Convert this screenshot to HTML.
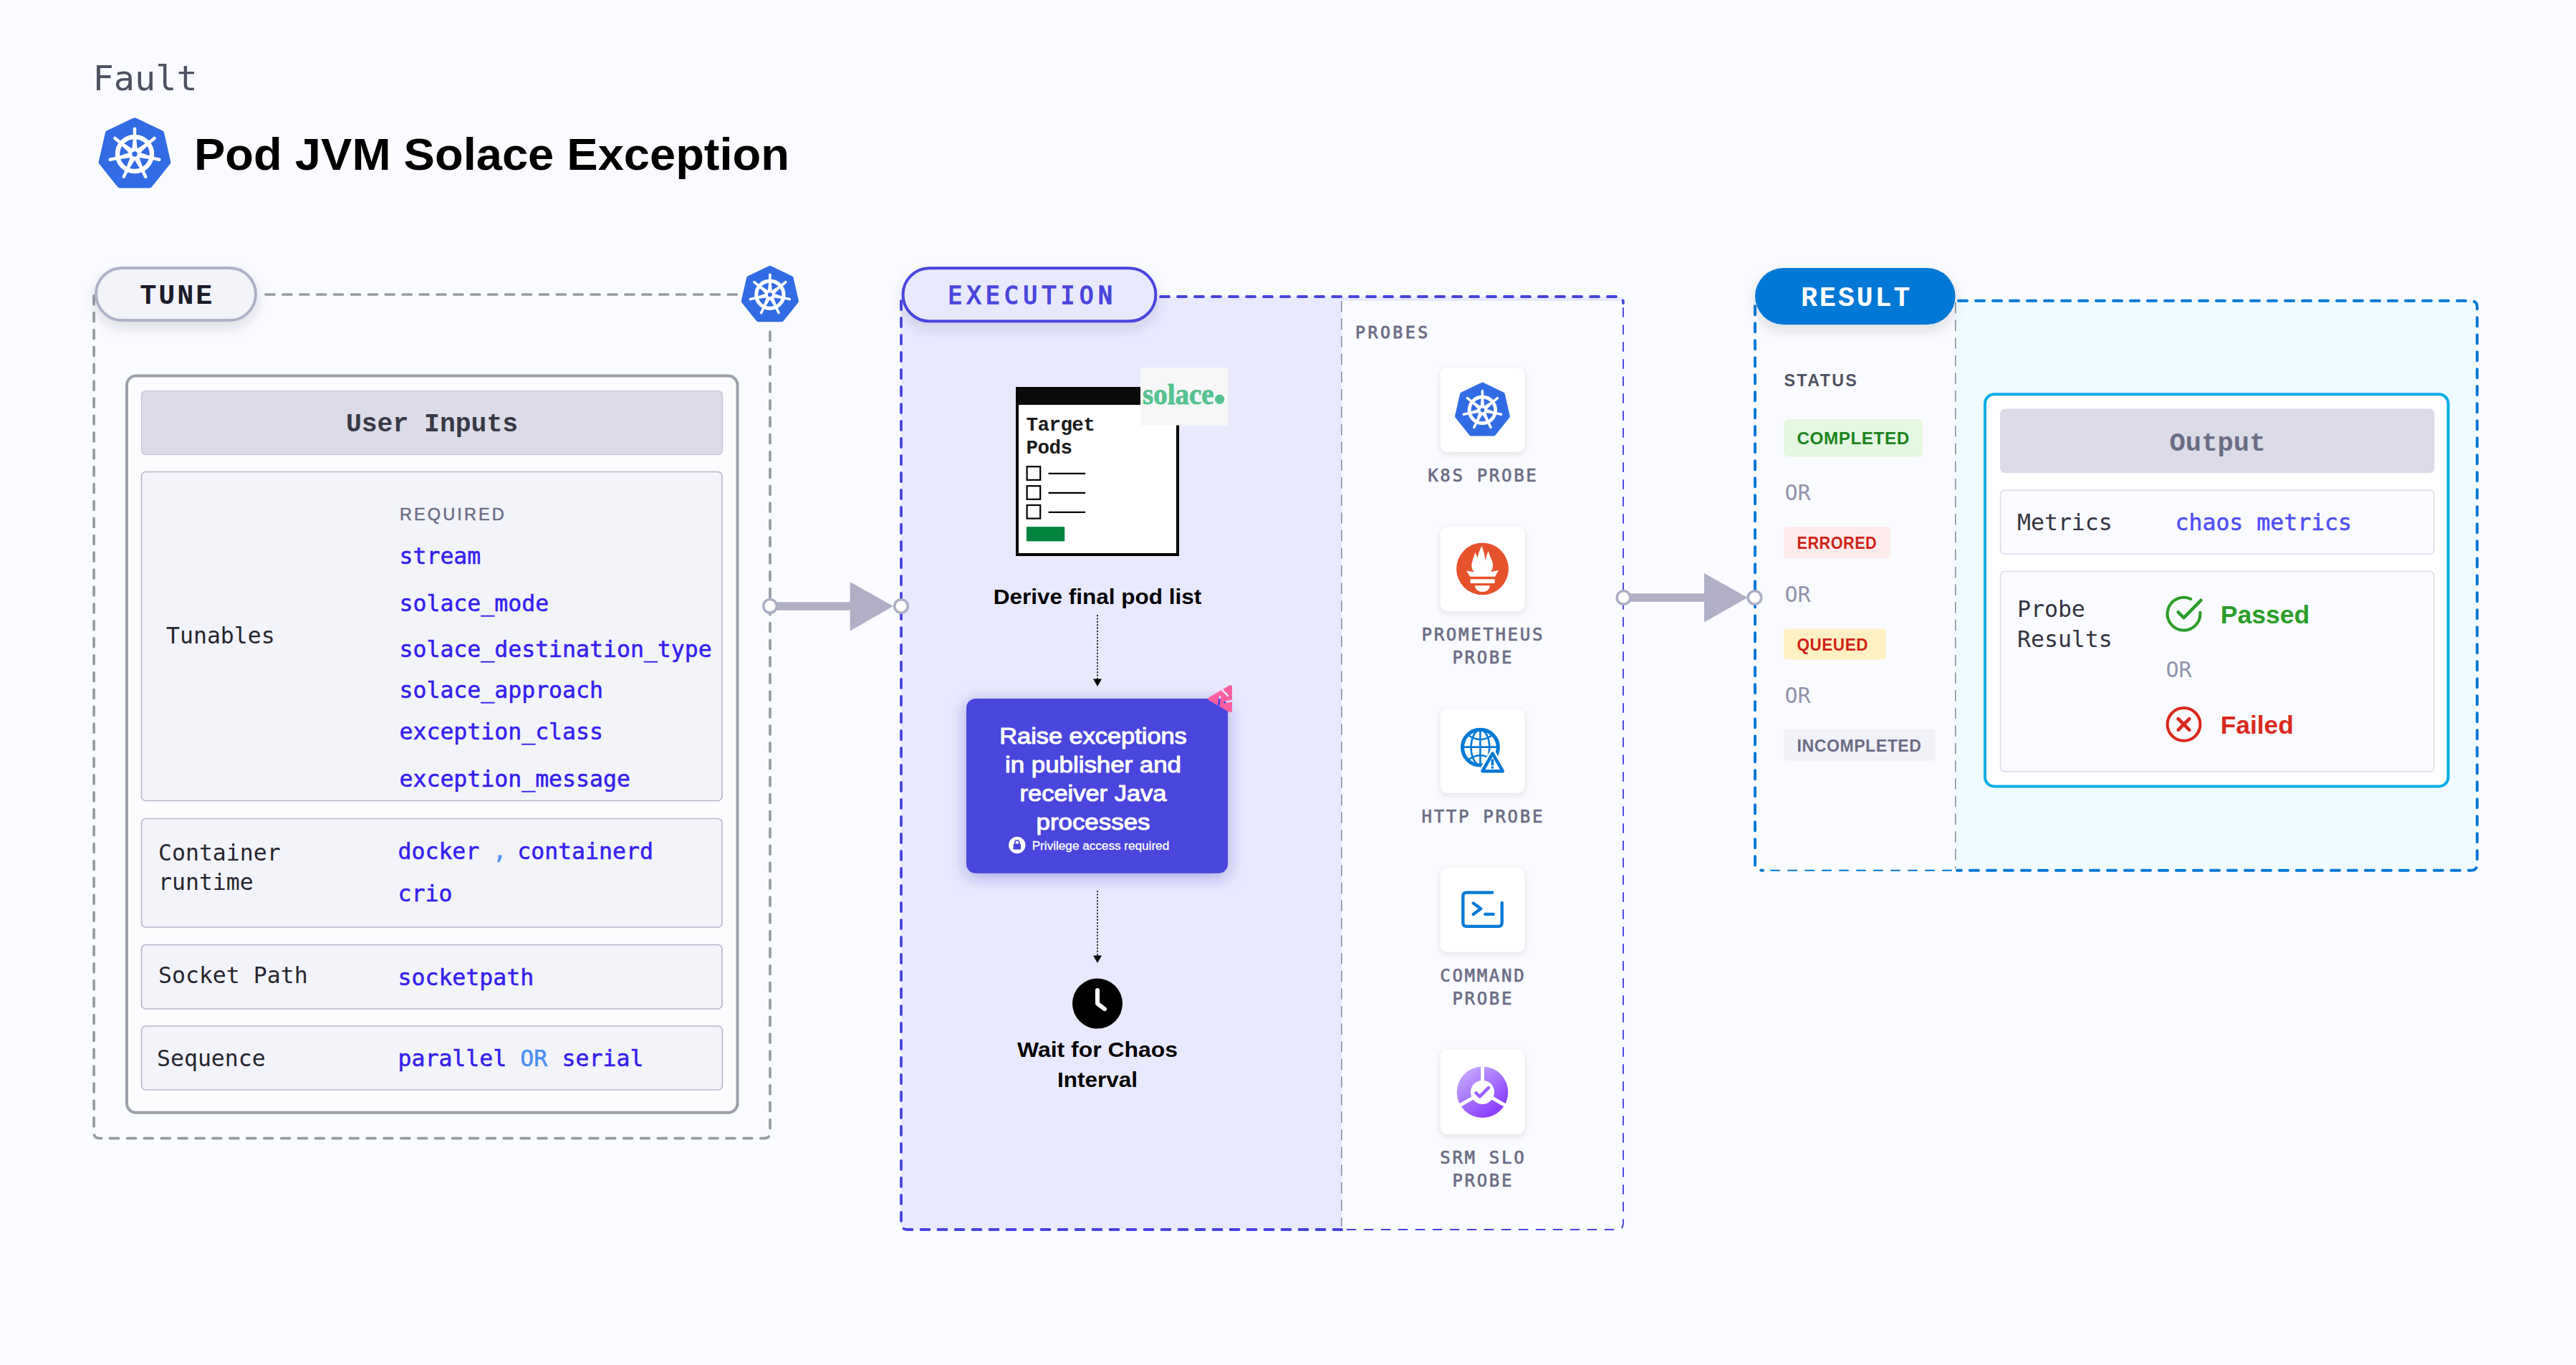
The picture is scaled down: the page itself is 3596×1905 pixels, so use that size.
<!DOCTYPE html>
<html lang="en">
<head>
<meta charset="utf-8">
<title>Pod JVM Solace Exception</title>
<style>
html,body{margin:0;padding:0;background:#fafbfe;}
body{width:3596px;height:1905px;overflow:hidden;position:relative;}
svg{position:absolute;left:0;top:0;display:block;}
text{white-space:pre;}
.mono{font-family:"DejaVu Sans Mono","Liberation Mono",monospace;}
.monob{font-family:"Liberation Mono","DejaVu Sans Mono",monospace;font-weight:bold;}
.sans{font-family:"Liberation Sans","DejaVu Sans",sans-serif;}
.serif{font-family:"Liberation Serif","DejaVu Serif",serif;}
.b{font-weight:bold;}
.lbl{font-size:31.5px;fill:#26262e;}
.val{font-size:31.5px;fill:#3520ee;stroke:#3520ee;stroke-width:.55px;}
.probe{font-size:24px;fill:#6b6d85;stroke:#6b6d85;stroke-width:.7px;letter-spacing:2.7px;text-anchor:middle;}
.or{font-size:30px;fill:#9293ab;}
.badge{font-size:24px;font-weight:bold;letter-spacing:.6px;}
</style>
</head>
<body>
<svg width="3596" height="1905" viewBox="0 0 3596 1905">
<defs>
  <filter id="shPill" x="-20%" y="-30%" width="140%" height="190%">
    <feDropShadow dx="0" dy="8" stdDeviation="8" flood-color="#28293d" flood-opacity="0.14"/>
  </filter>
  <filter id="shCard" x="-20%" y="-20%" width="140%" height="150%">
    <feDropShadow dx="0" dy="3" stdDeviation="4" flood-color="#28293d" flood-opacity="0.12"/>
  </filter>
  <filter id="shBox" x="-20%" y="-20%" width="140%" height="150%">
    <feDropShadow dx="0" dy="5" stdDeviation="11" flood-color="#2a27a8" flood-opacity="0.36"/>
  </filter>
  <!-- kubernetes logo, drawn in a 100x100 box centred on 50,50 -->
  <g id="spoke"><path d="M-3.6,-8 L-2.2,-22 L-2.3,-35.2 A2.3 2.3 0 0 1 2.3,-35.2 L2.2,-22 L3.6,-8 Z" fill="#fff"/></g>
  <g id="k8s">
    <path d="M50 4.5 L86.75 22.2 L95.82 61.96 L70.39 93.85 L29.61 93.85 L4.18 61.96 L13.25 22.2 Z" fill="#fff" stroke="#fff" stroke-width="15" stroke-linejoin="round" opacity=".85"/>
    <path d="M50 4.5 L86.75 22.2 L95.82 61.96 L70.39 93.85 L29.61 93.85 L4.18 61.96 L13.25 22.2 Z" fill="#326ce5" stroke="#326ce5" stroke-width="9" stroke-linejoin="round"/>
    <circle cx="50" cy="50.8" r="24" fill="none" stroke="#fff" stroke-width="6.4"/>
    <g transform="translate(50,50.8)">
      <use href="#spoke"/>
      <use href="#spoke" transform="rotate(51.43)"/>
      <use href="#spoke" transform="rotate(102.86)"/>
      <use href="#spoke" transform="rotate(154.29)"/>
      <use href="#spoke" transform="rotate(205.71)"/>
      <use href="#spoke" transform="rotate(257.14)"/>
      <use href="#spoke" transform="rotate(308.57)"/>
      <circle r="9" fill="#fff"/>
      <circle r="3.7" fill="#326ce5"/>
    </g>
  </g>
  <linearGradient id="gSrm" x1="0.15" y1="0.1" x2="0.8" y2="0.95">
    <stop offset="0" stop-color="#c2a6ff"/><stop offset="1" stop-color="#8535fd"/>
  </linearGradient>
  <g id="card"><rect x="0" y="0" width="117.6" height="117.8" rx="10" fill="#fff" filter="url(#shCard)"/></g>
</defs>

<!-- ================= HEADER ================= -->
<g id="header">
  <text class="mono" x="129.6" y="126" font-size="48.6" fill="#4f5162">Fault</text>
  <use href="#k8s" transform="translate(138,164.2)"/>
  <text class="sans b" x="271" y="237" font-size="63.4" fill="#000" textLength="831" lengthAdjust="spacingAndGlyphs">Pod JVM Solace Exception</text>
</g>

<!-- ================= TUNE ================= -->
<g id="tune">
  <!-- outer dashed frame -->
  <g fill="none" stroke="#969ba2" stroke-width="3.7" stroke-linecap="round" stroke-dasharray="12 11.9">
    <path d="M371 411 H1030"/>
    <path d="M131.1 412.7 V1580.6 Q131.1 1588.6 139.1 1588.6 H1067 Q1075 1588.6 1075 1580.6 V454"/>
  </g>
  <use href="#k8s" transform="translate(1035,370.8) scale(0.797)"/>
  <!-- pill -->
  <rect x="134" y="374" width="223" height="73" rx="36.5" fill="#f3f3fa" stroke="#b0b1c6" stroke-width="4" filter="url(#shPill)"/>
  <text class="monob" x="195.3" y="424.2" font-size="38.5" fill="#1b1b28" letter-spacing="2.9">TUNE</text>

  <!-- user inputs card -->
  <rect x="177" y="524.6" width="852.5" height="1028.2" rx="13" fill="#fcfcff" stroke="#9a9fa8" stroke-width="4"/>
  <rect x="197.5" y="545.5" width="811" height="89" rx="6" fill="#dcdbe8" stroke="#c6c5d8" stroke-width="1.2"/>
  <text class="monob" x="603" y="602" font-size="36.4" fill="#383946" text-anchor="middle">User Inputs</text>

  <!-- tunables -->
  <rect x="197.5" y="658.5" width="810.5" height="459" rx="6" fill="#f3f4fa" stroke="#b6b5ca" stroke-width="1.6"/>
  <text class="sans" x="558" y="725.6" font-size="23.5" fill="#6b6d85" stroke="#6b6d85" stroke-width=".5" letter-spacing="3.1">REQUIRED</text>
  <text class="mono lbl" x="232" y="898.4">Tunables</text>
  <text class="mono val" x="557.5" y="786.5">stream</text>
  <text class="mono val" x="557.5" y="852.5">solace_mode</text>
  <text class="mono val" x="557.5" y="916.5">solace_destination_type</text>
  <text class="mono val" x="557.5" y="974.3">solace_approach</text>
  <text class="mono val" x="557.5" y="1032.3">exception_class</text>
  <text class="mono val" x="557.5" y="1097.5">exception_message</text>

  <!-- container runtime -->
  <rect x="197.5" y="1142.5" width="810.5" height="151.5" rx="6" fill="#f3f4fa" stroke="#b6b5ca" stroke-width="1.6"/>
  <text class="mono lbl" x="221" y="1200.8">Container</text>
  <text class="mono lbl" x="221" y="1241.9">runtime</text>
  <text class="mono val" x="555.5" y="1198.8">docker <tspan fill="#4a90f2" stroke="#4a90f2">,</tspan><tspan dx="-4"> containerd</tspan></text>
  <text class="mono val" x="555.5" y="1257.5">crio</text>

  <!-- socket path -->
  <rect x="197.5" y="1318.5" width="810.5" height="89.5" rx="6" fill="#f3f4fa" stroke="#b6b5ca" stroke-width="1.6"/>
  <text class="mono lbl" x="221" y="1371.5">Socket Path</text>
  <text class="mono val" x="555.5" y="1375">socketpath</text>

  <!-- sequence -->
  <rect x="197.5" y="1432" width="811" height="89" rx="6" fill="#f3f4fa" stroke="#b6b5ca" stroke-width="1.6"/>
  <text class="mono lbl" x="219" y="1488">Sequence</text>
  <text class="mono val" x="555.5" y="1488">parallel <tspan fill="#4a90f2" stroke="#4a90f2">OR</tspan><tspan dx="1.5"> serial</tspan></text>
</g>


<!-- ================= EXECUTION ================= -->
<g id="exec">
  <path d="M1258 414 H1873 V1716 H1267 Q1258 1716 1258 1707 Z" fill="#e9e9fe"/>
  <rect x="1873" y="414" width="393" height="6" fill="#e9e9fe"/>
  <!-- thick dashed: top, left, bottom-left -->
  <g fill="none" stroke="#4643de" stroke-linecap="round" stroke-dasharray="12 12">
    <path d="M1620 414 H2257 Q2266 414 2266 423" stroke-width="3.8"/>
    <path d="M1258 420 V1707 Q1258 1716 1267 1716 H1873" stroke-width="3.8"/>
    <path d="M2266 430 V1707 Q2266 1716 2257 1716 H1876" stroke-width="1.9"/>
  </g>
  <path d="M1872.8 420 V1712" fill="none" stroke="#8e8e9c" stroke-width="1.6" stroke-dasharray="15.4 9.2"/>
  <!-- pill -->
  <rect x="1260.5" y="374.3" width="352.9" height="74" rx="37" fill="#e9e9fe" stroke="#4a45dd" stroke-width="4" filter="url(#shPill)"/>
  <text class="mono" x="1323.3" y="423.8" font-size="33" fill="#4a45dd" letter-spacing="6.35" stroke="#4a45dd" stroke-width="1.5">EXECUTION</text>

  <!-- target pods window -->
  <rect x="1420" y="542" width="224" height="232" fill="#fff" stroke="#000" stroke-width="4"/>
  <rect x="1418" y="540" width="228" height="25" fill="#0a0a0a"/>
  <text class="monob" x="1432.5" y="601.4" font-size="27.6" letter-spacing="-0.6" fill="#1b1b1b">Target</text>
  <text class="monob" x="1432.5" y="633.4" font-size="27.6" letter-spacing="-0.6" fill="#1b1b1b">Pods</text>
  <g fill="#fff" stroke="#000" stroke-width="2.2">
    <rect x="1433.6" y="651.2" width="18.6" height="18.6"/>
    <rect x="1433.6" y="678.2" width="18.6" height="18.6"/>
    <rect x="1433.6" y="705" width="18.6" height="18.6"/>
    <path d="M1463.6 660.8 H1515 M1463.6 687.8 H1515 M1463.6 714.8 H1515" fill="none"/>
  </g>
  <rect x="1432.9" y="735.2" width="53.3" height="20.2" fill="#00833e"/>
  <!-- solace logo -->
  <rect x="1592" y="513" width="122" height="80.6" fill="#f7f7f7"/>
  <text class="serif b" x="1595" y="563.5" font-size="39.5" fill="#57c291" stroke="#57c291" stroke-width="0.9" textLength="99.5" lengthAdjust="spacingAndGlyphs">solace</text>
  <circle cx="1702.6" cy="557.2" r="6.7" fill="#57c291"/>

  <text class="sans b" x="1532" y="842.7" font-size="30" fill="#000" text-anchor="middle" textLength="290.5" lengthAdjust="spacingAndGlyphs">Derive final pod list</text>

  <!-- dotted arrow 1 -->
  <path d="M1532 858 V948" stroke="#000" stroke-width="1.6" stroke-dasharray="2.2 2.2" fill="none"/>
  <path d="M1526 947.5 H1538 L1532 958 Z" fill="#000"/>

  <!-- blue box -->
  <rect x="1349" y="975" width="365" height="243.7" rx="13" fill="#4a45dd" filter="url(#shBox)"/>
  <g class="sans" fill="#fff" stroke="#fff" stroke-width="1.05" font-size="30.5" text-anchor="middle">
    <text x="1526" y="1038" textLength="261.5" lengthAdjust="spacingAndGlyphs">Raise exceptions</text>
    <text x="1526" y="1078.2" textLength="246" lengthAdjust="spacingAndGlyphs">in publisher and</text>
    <text x="1526" y="1118" textLength="205" lengthAdjust="spacingAndGlyphs">receiver Java</text>
    <text x="1526" y="1157.9" textLength="159" lengthAdjust="spacingAndGlyphs">processes</text>
  </g>
  <circle cx="1419.8" cy="1179.5" r="11.7" fill="#fff"/>
  <rect x="1414.6" y="1177.6" width="10.4" height="7.8" rx="1" fill="#4a45dd"/>
  <path d="M1416.9 1178 V1175.6 A2.9 2.9 0 0 1 1422.7 1175.6 V1178" fill="none" stroke="#4a45dd" stroke-width="1.6"/>
  <text class="sans" x="1440.7" y="1185.5" font-size="16" fill="#fff" stroke="#fff" stroke-width=".3" textLength="191.5" lengthAdjust="spacingAndGlyphs">Privilege access required</text>
  <!-- pink logo -->
  <mask id="mPink" maskUnits="userSpaceOnUse" x="1675" y="945" width="60" height="60"><rect x="1675" y="945" width="60" height="60" fill="#fff"/><path d="M1705 961.6 L1714 971 M1723 977.4 L1709.2 980.2 M1700.6 987 L1703 972.4" stroke="#000" stroke-width="2.7" stroke-linecap="round" fill="none"/></mask>
  <path d="M1689 975.3 L1717.4 958.7 L1717.4 991.8 Z" fill="#ff5fa0" stroke="#ff5fa0" stroke-width="5" stroke-linejoin="round" mask="url(#mPink)"/>

  <!-- dotted arrow 2 -->
  <path d="M1532 1243 V1334" stroke="#000" stroke-width="1.6" stroke-dasharray="2.2 2.2" fill="none"/>
  <path d="M1526 1333.5 H1538 L1532 1344 Z" fill="#000"/>

  <!-- clock -->
  <circle cx="1532" cy="1400.6" r="35" fill="#000"/>
  <path d="M1532 1382 V1400.6 L1542 1408.2" fill="none" stroke="#fff" stroke-width="6" stroke-linecap="round" stroke-linejoin="round"/>
  <text class="sans b" x="1532" y="1475" font-size="30" fill="#000" text-anchor="middle" textLength="224" lengthAdjust="spacingAndGlyphs">Wait for Chaos</text>
  <text class="sans b" x="1532" y="1517.2" font-size="30" fill="#000" text-anchor="middle" textLength="112" lengthAdjust="spacingAndGlyphs">Interval</text>
</g>

<!-- arrow tune -> execution -->
<g id="arrow1">
  <path d="M1075 846 H1200" stroke="#b0afc6" stroke-width="11.5" fill="none"/>
  <path d="M1186.6 812 L1247 846 L1186.6 880.4 Z" fill="#b0afc6"/>
  <circle cx="1075" cy="845.8" r="9.3" fill="#fff" stroke="#adadc4" stroke-width="3.6"/>
  <circle cx="1258" cy="846" r="9.3" fill="#fff" stroke="#adadc4" stroke-width="3.6"/>
</g>
<!-- ================= PROBES ================= -->
<g id="probes">
  <text class="mono" x="1892" y="471.9" font-size="23" fill="#6b6d85" stroke="#6b6d85" stroke-width=".9" letter-spacing="3.6">PROBES</text>

  <!-- k8s -->
  <use href="#card" x="2010.8" y="513"/>
  <use href="#k8s" transform="translate(2031.3,533.6) scale(0.762)"/>
  <text class="mono probe" x="2070.3" y="672.4">K8S PROBE</text>

  <!-- prometheus -->
  <use href="#card" x="2010.8" y="735.2"/>
  <g transform="translate(2069.5,793.9)">
    <circle r="36.4" fill="#e6522c"/>
    <path d="M-1,-31.8 C1.5,-25 3.5,-19 3.8,-11.5 C5,-17 6.5,-21 8.1,-25 C9.5,-19 12.5,-14.5 13.8,-10 C15.3,-5 14.5,0.5 11.5,3.9 C15.5,3.6 19,2.8 22.5,1.8 L17.6,10.9 L-17.4,10.9 L-22.6,2.4 C-19,3.4 -15.5,4 -11.6,4.1 C-15,0.5 -16,-4 -14.6,-9 C-13.3,-14 -11.5,-18 -10.3,-22.8 C-8.8,-20 -7.6,-17.5 -7,-14.6 C-6,-21 -4,-26.5 -1,-31.8 Z" fill="#fff"/>
    <rect x="-17" y="14.4" width="34.1" height="5.7" fill="#fff"/>
    <path d="M-10.6,23.4 H10.5 A10.55 8.7 0 0 1 -10.6,23.4 Z" fill="#fff"/>
  </g>
  <text class="mono probe" x="2070.3" y="894.2">PROMETHEUS</text>
  <text class="mono probe" x="2070.3" y="926.1">PROBE</text>

  <!-- http -->
  <use href="#card" x="2010.8" y="989"/>
  <g fill="none" stroke="#0278d5">
    <circle cx="2066.4" cy="1043.1" r="24.9" stroke-width="5.1"/>
    <g stroke-width="2.6">
      <path d="M2066.4 1018.5 V1067.7 M2041.7 1042.6 H2091"/>
      <ellipse cx="2066.4" cy="1043.1" rx="12.8" ry="24.6"/>
      <path d="M2050.5 1026.5 Q2066.4 1037.5 2082.3 1026.5"/>
      <path d="M2050.5 1059.7 Q2066.4 1048.7 2082.3 1059.7"/>
    </g>
  </g>
  <path d="M2083.6 1051.6 L2097.7 1076.2 L2069.5 1076.2 Z" fill="#fff" stroke="#fff" stroke-width="9.4" stroke-linejoin="round"/>
  <path d="M2083.6 1051.6 L2097.7 1076.2 L2069.5 1076.2 Z" fill="#fff" stroke="#0278d5" stroke-width="4.6" stroke-linejoin="round"/>
  <rect x="2081.6" y="1059.6" width="3.6" height="8.7" fill="#0278d5"/>
  <circle cx="2083.4" cy="1071.1" r="1.9" fill="#0278d5"/>
  <text class="mono probe" x="2070.3" y="1148.2">HTTP PROBE</text>

  <!-- command -->
  <use href="#card" x="2010.8" y="1211"/>
  <g fill="none" stroke="#0278d5" stroke-width="4.3" stroke-linecap="round" stroke-linejoin="round">
    <path d="M2083.3 1245.6 H2047.3 Q2042.3 1245.6 2042.3 1250.6 V1287.8 Q2042.3 1292.8 2047.3 1292.8 H2091.7 Q2096.7 1292.8 2096.7 1287.8 V1260"/>
    <path d="M2056.7 1260.5 L2067.2 1268.2 L2056.7 1275.9"/>
    <path d="M2073.3 1275.9 H2084.6"/>
  </g>
  <text class="mono probe" x="2070.3" y="1370">COMMAND</text>
  <text class="mono probe" x="2070.3" y="1402">PROBE</text>

  <!-- srm slo -->
  <use href="#card" x="2010.8" y="1465"/>
  <g transform="translate(2069.5,1524.3)">
    <circle r="35.8" fill="url(#gSrm)"/>
    <g stroke="#fff" stroke-width="4.8" fill="none">
      <path d="M0 0 V-38"/>
      <path d="M0 0 L-32.9 19"/>
      <path d="M0 0 L32.9 19"/>
    </g>
    <circle r="16.6" fill="#fff"/>
    <path d="M-9 1 L-3.9 6.1 L8.4 -6.2" fill="none" stroke="#9a5cff" stroke-width="4.4" stroke-linecap="round" stroke-linejoin="round"/>
  </g>
  <text class="mono probe" x="2070.3" y="1624">SRM SLO</text>
  <text class="mono probe" x="2070.3" y="1656.4">PROBE</text>
</g>

<!-- arrow execution -> result -->
<g id="arrow2">
  <path d="M2266.5 834 H2392" stroke="#b0afc6" stroke-width="11.5" fill="none"/>
  <path d="M2379 800 L2439.5 834 L2379 868.6 Z" fill="#b0afc6"/>
  <circle cx="2266.5" cy="834" r="9.3" fill="#fff" stroke="#adadc4" stroke-width="3.6"/>
</g>

<!-- ================= RESULT ================= -->
<g id="result">
  <path d="M2729.6 419.8 H3449 Q3458 419.8 3458 428.8 V1205.7 Q3458 1214.7 3449 1214.7 H2729.6 Z" fill="#effbff"/>
  <g fill="none" stroke="#0278d5" stroke-linecap="round" stroke-dasharray="12 12">
    <path d="M2734 419.8 H3449 Q3458 419.8 3458 428.8 V1205.7 Q3458 1214.7 3449 1214.7 H2732" stroke-width="4"/>
    <path d="M2470 419.8 H2459 Q2450 419.8 2450 428.8 V1205.7 Q2450 1214.7 2461 1214.7" stroke-width="4"/>
    <path d="M2472 1214.7 H2726" stroke-width="2"/>
  </g>
  <path d="M2729.8 422 V1212" fill="none" stroke="#6a6b82" stroke-width="1.2" stroke-dasharray="15.4 9.2"/>
  <circle cx="2449.5" cy="834" r="9.3" fill="#fff" stroke="#adadc4" stroke-width="3.6"/>
  <!-- pill -->
  <rect x="2450" y="374" width="279.6" height="79" rx="39.5" fill="#0278d5" filter="url(#shPill)"/>
  <text class="monob" x="2514" y="426.6" font-size="38.5" fill="#fff" letter-spacing="2.75">RESULT</text>

  <text class="sans b" x="2490.5" y="539.4" font-size="23.2" fill="#4f5162" letter-spacing="3.2" textLength="104.5" lengthAdjust="spacing">STATUS</text>

  <rect x="2490" y="585" width="194" height="52.6" rx="7" fill="#e4f7e1"/>
  <text class="sans badge" x="2508.5" y="619.8" fill="#1b841d" textLength="157.3" lengthAdjust="spacingAndGlyphs">COMPLETED</text>
  <text class="mono or" x="2491.5" y="697.8">OR</text>
  <rect x="2490" y="735" width="148.7" height="44.4" rx="5" fill="#fcebeb"/>
  <text class="sans badge" x="2508.5" y="765.8" fill="#cf2318" textLength="111.7" lengthAdjust="spacingAndGlyphs">ERRORED</text>
  <text class="mono or" x="2491.5" y="839.6">OR</text>
  <rect x="2490" y="877.4" width="142.7" height="43.2" rx="5" fill="#fef0c2"/>
  <text class="sans badge" x="2508.5" y="907.6" fill="#cf2318" textLength="99.5" lengthAdjust="spacingAndGlyphs">QUEUED</text>
  <text class="mono or" x="2491.5" y="980.7">OR</text>
  <rect x="2490" y="1017.8" width="212" height="44" rx="5" fill="#f1f1f8"/>
  <text class="sans badge" x="2508.5" y="1048.6" fill="#6b6d85" textLength="174" lengthAdjust="spacingAndGlyphs">INCOMPLETED</text>

  <!-- output card -->
  <rect x="2771" y="550.2" width="646.6" height="547.2" rx="13" fill="#fff" stroke="#00ade4" stroke-width="4"/>
  <rect x="2792" y="570.6" width="606.3" height="89.6" rx="7" fill="#dcdbe8"/>
  <text class="monob" x="3095.5" y="629.2" font-size="37.2" fill="#6b6d85" text-anchor="middle">Output</text>

  <rect x="2792.5" y="684.2" width="605.3" height="89" rx="6" fill="#fafbfe" stroke="#d9dae6" stroke-width="1.4"/>
  <text class="mono lbl" x="2816" y="740" style="fill:#33333f">Metrics</text>
  <text class="mono" x="3036.5" y="740" font-size="31.5" fill="#4f4df6" stroke="#4f4df6" stroke-width=".55">chaos metrics</text>

  <rect x="2792.5" y="797.4" width="605.3" height="279.4" rx="6" fill="#fafbfe" stroke="#d9dae6" stroke-width="1.4"/>
  <text class="mono lbl" x="2816" y="861" style="fill:#33333f">Probe</text>
  <text class="mono lbl" x="2816" y="902.5" style="fill:#33333f">Results</text>

  <g fill="none" stroke="#2a9d2a" stroke-width="4.1" stroke-linecap="round" stroke-linejoin="round">
    <path d="M3058.2 836 A22.9 22.9 0 1 0 3071.3 854.7"/>
    <path d="M3040.7 854.3 L3048.5 862.2 L3072.3 837.8" stroke-width="4.6"/>
  </g>
  <text class="sans b" x="3099.8" y="869.6" font-size="35" fill="#2a9d2a" textLength="124.4" lengthAdjust="spacingAndGlyphs">Passed</text>
  <text class="mono or" x="3023.4" y="945.2">OR</text>
  <g fill="none" stroke="#da291d" stroke-width="4.1" stroke-linecap="round">
    <circle cx="3048.5" cy="1010.9" r="22.9"/>
    <path d="M3040.8 1003.2 L3056.2 1018.6 M3056.2 1003.2 L3040.8 1018.6" stroke-width="4.8"/>
  </g>
  <text class="sans b" x="3099.8" y="1023.6" font-size="35" fill="#da291d" textLength="102" lengthAdjust="spacingAndGlyphs">Failed</text>
</g>

</svg>
</body>
</html>
